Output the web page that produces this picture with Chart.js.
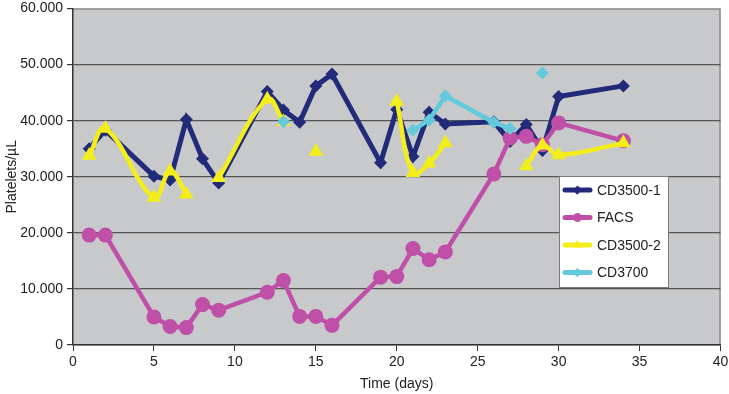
<!DOCTYPE html>
<html>
<head>
<meta charset="utf-8">
<script src="https://cdn.jsdelivr.net/npm/chart.js@4"></script>
<style>
html,body{margin:0;padding:0;background:#fff;}
#wrap{position:relative;width:729px;height:394px;}
</style>
</head>
<body>
<div id="wrap"><canvas id="c" width="729" height="394"></canvas></div>
<script>
const days = [1,2,5,6,7,8,9,12,13,14,15,16,19,20,21,22,23,26,27,28,29,30,34];
const seriesNames = ['CD3500-1','FACS','CD3500-2','CD3700'];
const cd3500_1 = [35000,38300,30100,29400,40200,33200,28900,45200,41900,39700,46200,48300,32500,42000,33600,41500,39400,39800,36300,39300,34700,44300,46200];
const facs     = [19600,19600,5000,3300,3100,7200,6200,9400,11500,5100,5100,3500,12100,12200,17200,15200,16600,30500,36900,37200,35700,39600,36400];
const cd3500_2 = [33800,38600,26300,31000,26900,null,29800,43800,39800,null,34500,null,null,43400,30700,32400,36000,null,null,31900,35600,33900,36000];
const cd3700   = [null,null,null,null,null,null,null,null,39800,null,null,null,null,null,38300,40100,44400,39700,38600,null,48500,null,null];
const xTicks = {min:0, max:40, step:5};
const yTicks = {min:0, max:60000, step:10000};

const colors = ['#222a7a','#c04fa8','#f3ee1a','#63cadb'];
const styles = ['rectRot','circle','triangle','rectRot'];
const radii = [6.5,7.5,8.5,6.5];
const widths = [5,4.5,4.5,4.5];
const tensions = [0,0,0.4,0];
const values = [cd3500_1, facs, cd3500_2, cd3700];

const FONT = '"Liberation Sans", Arial, sans-serif';
const fmt = v => String(v).replace(/\B(?=(\d{3})+(?!\d))/g,'.');

const bgPlugin = {
  id:'bg',
  beforeDraw(chart){
    const {ctx, chartArea:a} = chart;
    ctx.save();
    ctx.fillStyle = '#c8c9cb';
    ctx.fillRect(a.left, a.top, a.right-a.left, a.bottom-a.top);
    ctx.strokeStyle = '#8c8c8c';
    ctx.lineWidth = 1.5;
    ctx.beginPath();
    ctx.moveTo(a.left, a.top+0.5);
    ctx.lineTo(a.right-0.5, a.top+0.5);
    ctx.lineTo(a.right-0.5, a.bottom);
    ctx.stroke();
    ctx.restore();
  }
};

const legendPlugin = {
  id:'customLegend',
  afterDraw(chart){
    const ctx = chart.ctx;
    const x0 = 559, y0 = 176, w = 109, h = 111;
    ctx.save();
    ctx.fillStyle = '#ffffff';
    ctx.fillRect(x0, y0, w, h);
    ctx.strokeStyle = '#7a7a7a';
    ctx.lineWidth = 1;
    ctx.strokeRect(x0+0.5, y0+0.5, w, h);
    ctx.textBaseline = 'middle';
    ctx.textAlign = 'left';
    chart.data.datasets.forEach((ds, i) => {
      const cy = 190 + i*27.5;
      ctx.strokeStyle = ds.borderColor;
      ctx.lineWidth = 5;
      ctx.lineCap = 'round';
      ctx.beginPath();
      ctx.moveTo(565, cy);
      ctx.lineTo(590, cy);
      ctx.stroke();
      ctx.fillStyle = ds.borderColor;
      ctx.strokeStyle = ds.borderColor;
      ctx.lineWidth = 1;
      Chart.helpers.drawPoint(ctx, {pointStyle: ds.pointStyle, radius: 4, borderWidth: 1, rotation: 0}, 577.5, cy);
      ctx.fillStyle = '#222';
      ctx.font = '14px ' + FONT;
      ctx.fillText(ds.label, 597, cy+1);
    });
    ctx.restore();
  }
};

const datasets = seriesNames.map((name, i) => ({
  label: name,
  data: values[i],
  borderColor: colors[i],
  backgroundColor: colors[i],
  pointBackgroundColor: colors[i],
  pointBorderColor: colors[i],
  pointStyle: styles[i],
  pointRadius: radii[i],
  pointBorderWidth: 0,
  borderWidth: widths[i],
  tension: tensions[i],
  spanGaps: false,
  order: 4 - i
}));

new Chart(document.getElementById('c'), {
  type: 'line',
  data: { labels: days, datasets },
  options: {
    responsive: false,
    animation: false,
    devicePixelRatio: 1,
    layout: { padding: { top: 5, right: 8, left: 0, bottom: 0 } },
    plugins: { legend: { display: false }, tooltip: { enabled: false } },
    scales: {
      x: {
        type: 'linear',
        min: xTicks.min, max: xTicks.max,
        ticks: { stepSize: xTicks.step, color: '#222', padding: 3,
                 font: { family: FONT, size: 14 } },
        grid: { drawOnChartArea: false, drawTicks: true, tickLength: 6, color: '#333' },
        border: { color: '#333', width: 1.5 },
        title: { display: true, text: 'Time (days)', color: '#222', padding: { top: 0, bottom: 1 },
                 font: { family: FONT, size: 14 } },
        afterFit(scale){ scale.height = 49; scale.paddingLeft = 0; scale.paddingRight = 0; }
      },
      y: {
        min: yTicks.min, max: yTicks.max,
        ticks: { stepSize: yTicks.step, color: '#222', padding: 4,
                 callback: v => fmt(v),
                 font: { family: FONT, size: 14 } },
        grid: {
          color: ctx => (ctx.tick && ctx.tick.value === yTicks.max) ? 'rgba(0,0,0,0)' : '#555',
          tickColor: '#333',
          tickLength: 6, lineWidth: 1.2
        },
        border: { color: '#333', width: 1.5 },
        title: { display: true, text: 'Platelets/µL', color: '#222', padding: { top: 4, bottom: 0 },
                 font: { family: FONT, size: 14 } },
        afterFit(scale){ scale.width = 73; scale.paddingTop = 0; scale.paddingBottom = 0; }
      }
    }
  },
  plugins: [bgPlugin, legendPlugin]
});
</script>
</body>
</html>
